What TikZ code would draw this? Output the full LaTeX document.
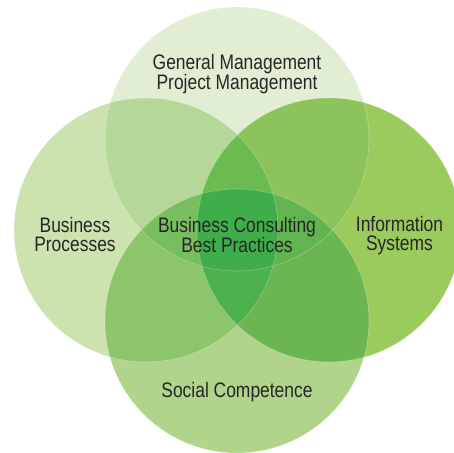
\documentclass[tikz,border=0pt]{standalone}
\usepackage{fontspec}
\setmainfont{Liberation Sans}[FakeStretch=0.83]
\usetikzlibrary{positioning}
\definecolor{ink}{HTML}{262626}
\definecolor{gtop}{HTML}{E1EED4}
\definecolor{gleft}{HTML}{CCE3B0}
\definecolor{gright}{HTML}{9BCA5D}
\definecolor{gbottom}{HTML}{B0D48B}
\definecolor{gtl}{HTML}{B5D898}
\definecolor{gtr}{HTML}{8CC35B}
\definecolor{gbl}{HTML}{8CC56B}
\definecolor{gbr}{HTML}{6BB650}
\definecolor{gtbl}{HTML}{78BE5F}
\definecolor{gtbr}{HTML}{62B450}
\definecolor{glrt}{HTML}{6CBB50}
\definecolor{glrb}{HTML}{4CB04C}
\definecolor{gcore}{HTML}{3FAE4A}
\newcommand{\vcirc}[1]{(#1) circle (132pt)}

\begin{document}
\begin{tikzpicture}[x=1pt, y=1pt, font=\fontsize{21}{19}\selectfont,
    vtext/.style={text=ink, align=center, inner sep=0pt}]
  \useasboundingbox (0,0) rectangle (453,453);
  \coordinate (mgmt)   at (237,314);
  \coordinate (proc)   at (146,223);
  \coordinate (info)   at (329,223);
  \coordinate (social) at (237,132);

  % single circles
  \fill[gtop]    \vcirc{mgmt};
  \fill[gleft]   \vcirc{proc};
  \fill[gright]  \vcirc{info};
  \fill[gbottom] \vcirc{social};

  % two circles
  \begin{scope}\clip \vcirc{mgmt};   \fill[gtl] \vcirc{proc}; \end{scope}
  \begin{scope}\clip \vcirc{mgmt};   \fill[gtr] \vcirc{info}; \end{scope}
  \begin{scope}\clip \vcirc{social}; \fill[gbl] \vcirc{proc}; \end{scope}
  \begin{scope}\clip \vcirc{social}; \fill[gbr] \vcirc{info}; \end{scope}

  % three circles
  \begin{scope}\clip \vcirc{mgmt}; \clip \vcirc{social}; \fill[gtbl] \vcirc{proc}; \end{scope}
  \begin{scope}\clip \vcirc{mgmt}; \clip \vcirc{social}; \fill[gtbr] \vcirc{info}; \end{scope}
  \begin{scope}\clip \vcirc{proc}; \clip \vcirc{info};   \fill[glrt] \vcirc{mgmt}; \end{scope}
  \begin{scope}\clip \vcirc{proc}; \clip \vcirc{info};   \fill[glrb] \vcirc{social}; \end{scope}

  % all four
  \begin{scope}
    \clip \vcirc{mgmt}; \clip \vcirc{social}; \clip \vcirc{proc};
    \fill[gcore] \vcirc{info};
  \end{scope}

  % faint rims
  \foreach \c in {mgmt,proc,info,social}
    \draw[white, opacity=0.3, line width=0.6pt] \vcirc{\c};

  \node[vtext] (gm) at (237,379) {General Management\\Project Management};
  \node[vtext] (bc) at (237,218) {Business Consulting\\Best Practices};
  \node[vtext] (bp) at (75,218.5) {Business\\Processes};
  \node[vtext] (is) at (399.5,217) {Information\\Systems};
  \node[vtext] (sc) at (237,61) {Social Competence};
\end{tikzpicture}
\end{document}
